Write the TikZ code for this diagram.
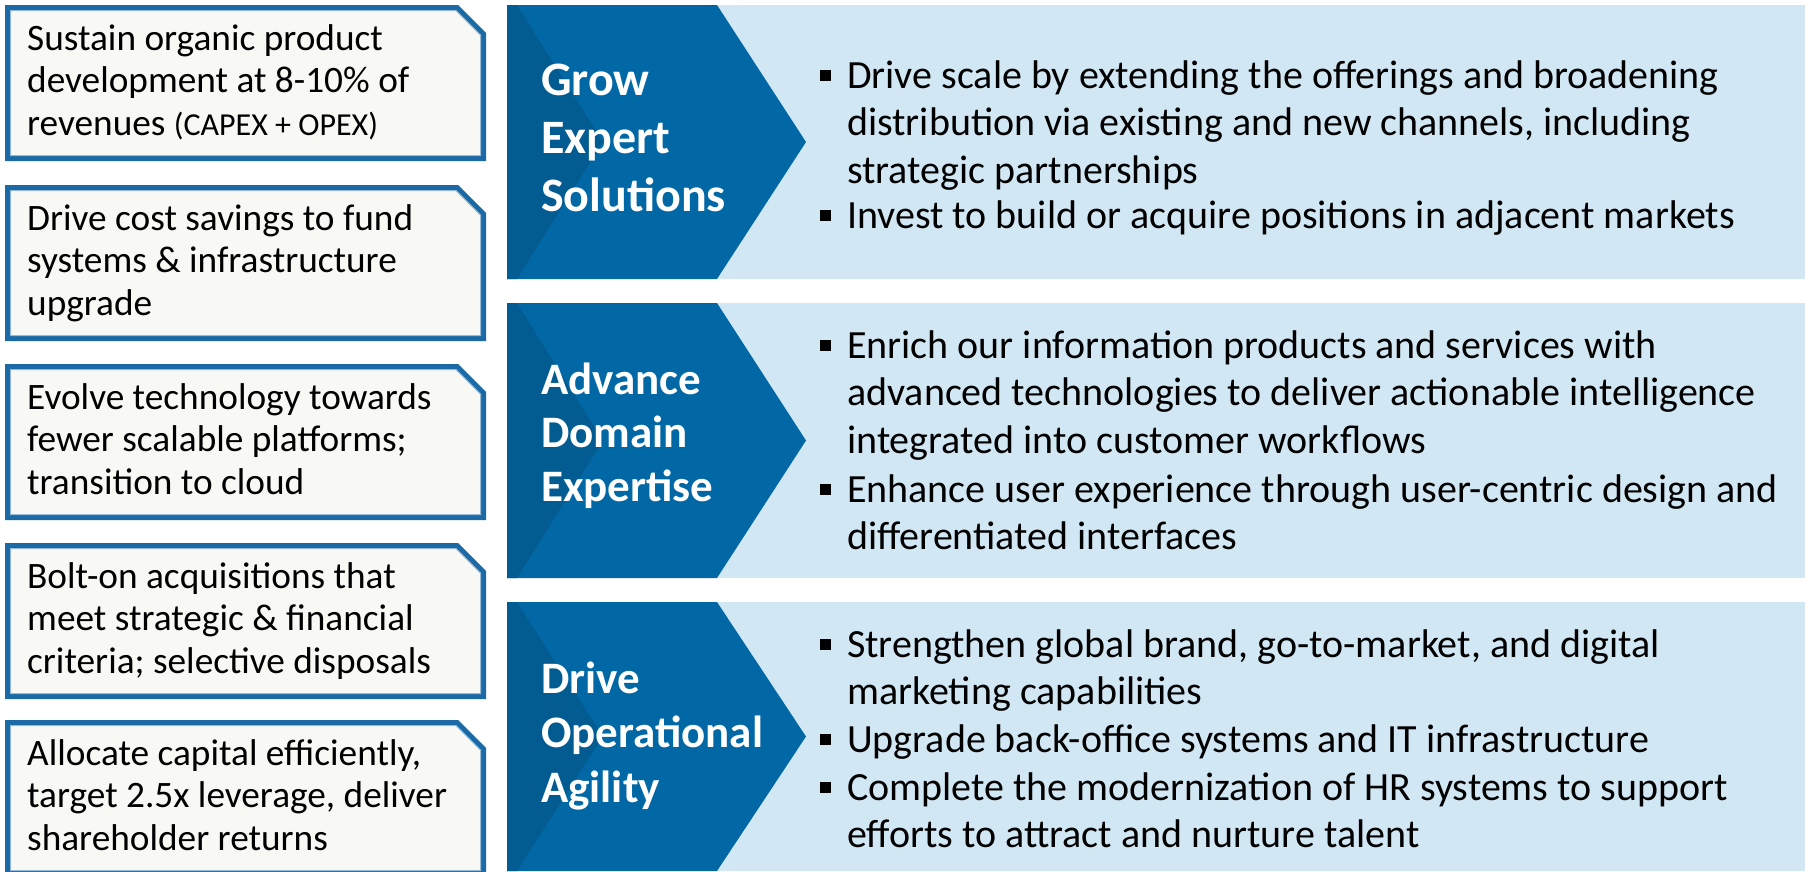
\documentclass[tikz,border=0pt]{standalone}
\usepackage{fontspec}
\setmainfont{Carlito}
\definecolor{chevblue}{RGB}{2,104,165}
\definecolor{chevdark}{RGB}{2,92,146}
\definecolor{panelblue}{RGB}{210,231,244}
\definecolor{boxfill}{RGB}{248,249,244}
\definecolor{boxline}{RGB}{27,106,165}
\definecolor{boxinner}{RGB}{150,186,214}
\newcommand{\rows}[1]{\begin{tabular}[t]{@{}l@{}}#1\end{tabular}}
\begin{document}
\begin{tikzpicture}[x=1pt,y=-1pt,
  leftbox/.style={draw=boxline,line width=5pt,fill=boxfill,line join=miter},
  leftinner/.style={draw=boxinner,line width=1pt,line join=miter},
  boxtext/.style={anchor=base west,inner sep=0pt,font=\fontsize{37.3}{42.5}\selectfont},
  chevlabel/.style={anchor=base west,inner sep=0pt,text=white},
  itemtext/.style={anchor=base west,inner sep=0pt,font=\fontsize{40}{47.5}\selectfont},
  itemmark/.style={fill=black,inner sep=0pt,minimum size=10.5pt},
  panel/.style={fill=panelblue},
  chev/.style={fill=chevblue},
  chevshade/.style={fill=chevdark}]
\useasboundingbox (0,0) rectangle (1805,871);
\fill[white] (0,0) rectangle (1805,871);

% left column: chamfered objective boxes
\foreach \t in {5,185,364,543,720}{
  \draw[leftbox] (7.5,\t+2.5) -- (457,\t+2.5) -- (483.5,\t+29) -- (483.5,\t+153.5) -- (7.5,\t+153.5) -- cycle;
  \draw[leftinner] (10.5,\t+5.5) -- (455.8,\t+5.5) -- (480.5,\t+30.2) -- (480.5,\t+150.5) -- (10.5,\t+150.5) -- cycle;
}
\node[boxtext] (obj1) at (27,50) {\rows{Sustain organic product\\ development at 8-10\% of\\ revenues {\fontsize{32}{42.5}\selectfont (CAPEX + OPEX)}}};
\node[boxtext] (obj2) at (27,230) {\rows{Drive cost savings to fund\\ systems \& infrastructure\\ upgrade}};
\node[boxtext] (obj3) at (27,409) {\rows{Evolve technology towards\\ fewer scalable platforms;\\ transition to cloud}};
\node[boxtext] (obj4) at (27,588) {\rows{Bolt-on acquisitions that\\ meet strategic \& financial\\ criteria; selective disposals}};
\node[boxtext] (obj5) at (27,765) {\rows{Allocate capital efficiently,\\ target 2.5x leverage, deliver\\ shareholder returns}};

% three strategy bands: light panel, chevron, shaded inner chevron
\foreach \t/\b in {5/279,303/578,602/871}{
  \fill[panel] (707,\t) rectangle (1805,\b);
  \fill[chev] (507,\t) -- (717,\t) -- (806,{(\t+\b)/2}) -- (717,\b) -- (507,\b) -- cycle;
  \fill[chevshade] (507,\t) -- (517,\t) -- (603,{(\t+\b)/2}) -- (517,\b) -- (507,\b) -- cycle;
}

% chevron titles
\node[chevlabel,font=\fontsize{48}{58}\selectfont\bfseries] (s1) at (541,95) {\rows{Grow\\ Expert\\ Solutions}};
\node[chevlabel,font=\fontsize{45}{53.5}\selectfont\bfseries] (s2) at (541,394) {\rows{Advance\\ Domain\\ Expertise}};
\node[chevlabel,font=\fontsize{45}{54.5}\selectfont\bfseries] (s3) at (541,693) {\rows{Drive\\ Operational\\ Agility}};

% bullet items
\node[itemmark] (m11) at (825.5,75.5) {};
\node[itemtext] (t11) at (847,88) {\rows{Drive scale by extending the offerings and broadening\\ distribution via existing and new channels, including\\ strategic partnerships}};
\node[itemmark] (m12) at (825.5,215.5) {};
\node[itemtext] (t12) at (847,228) {Invest to build or acquire positions in adjacent markets};

\node[itemmark] (m21) at (825.5,345.5) {};
\node[itemtext] (t21) at (847,358) {\rows{Enrich our information products and services with\\ advanced technologies to deliver actionable intelligence\\ integrated into customer workflows}};
\node[itemmark] (m22) at (825.5,489.5) {};
\node[itemtext] (t22) at (847,502) {\rows{Enhance user experience through user-centric design and\\ differentiated interfaces}};

\node[itemmark] (m31) at (825.5,644.5) {};
\node[itemtext] (t31) at (847,657) {\rows{Strengthen global brand, go-to-market, and digital\\ marketing capabilities}};
\node[itemmark] (m32) at (825.5,739.5) {};
\node[itemtext] (t32) at (847,752) {Upgrade back-office systems and IT infrastructure};
\node[itemmark] (m33) at (825.5,787.5) {};
\node[itemtext] (t33) at (847,800) {\rows{Complete the modernization of HR systems to support\\ efforts to attract and nurture talent}};
\end{tikzpicture}
\end{document}
